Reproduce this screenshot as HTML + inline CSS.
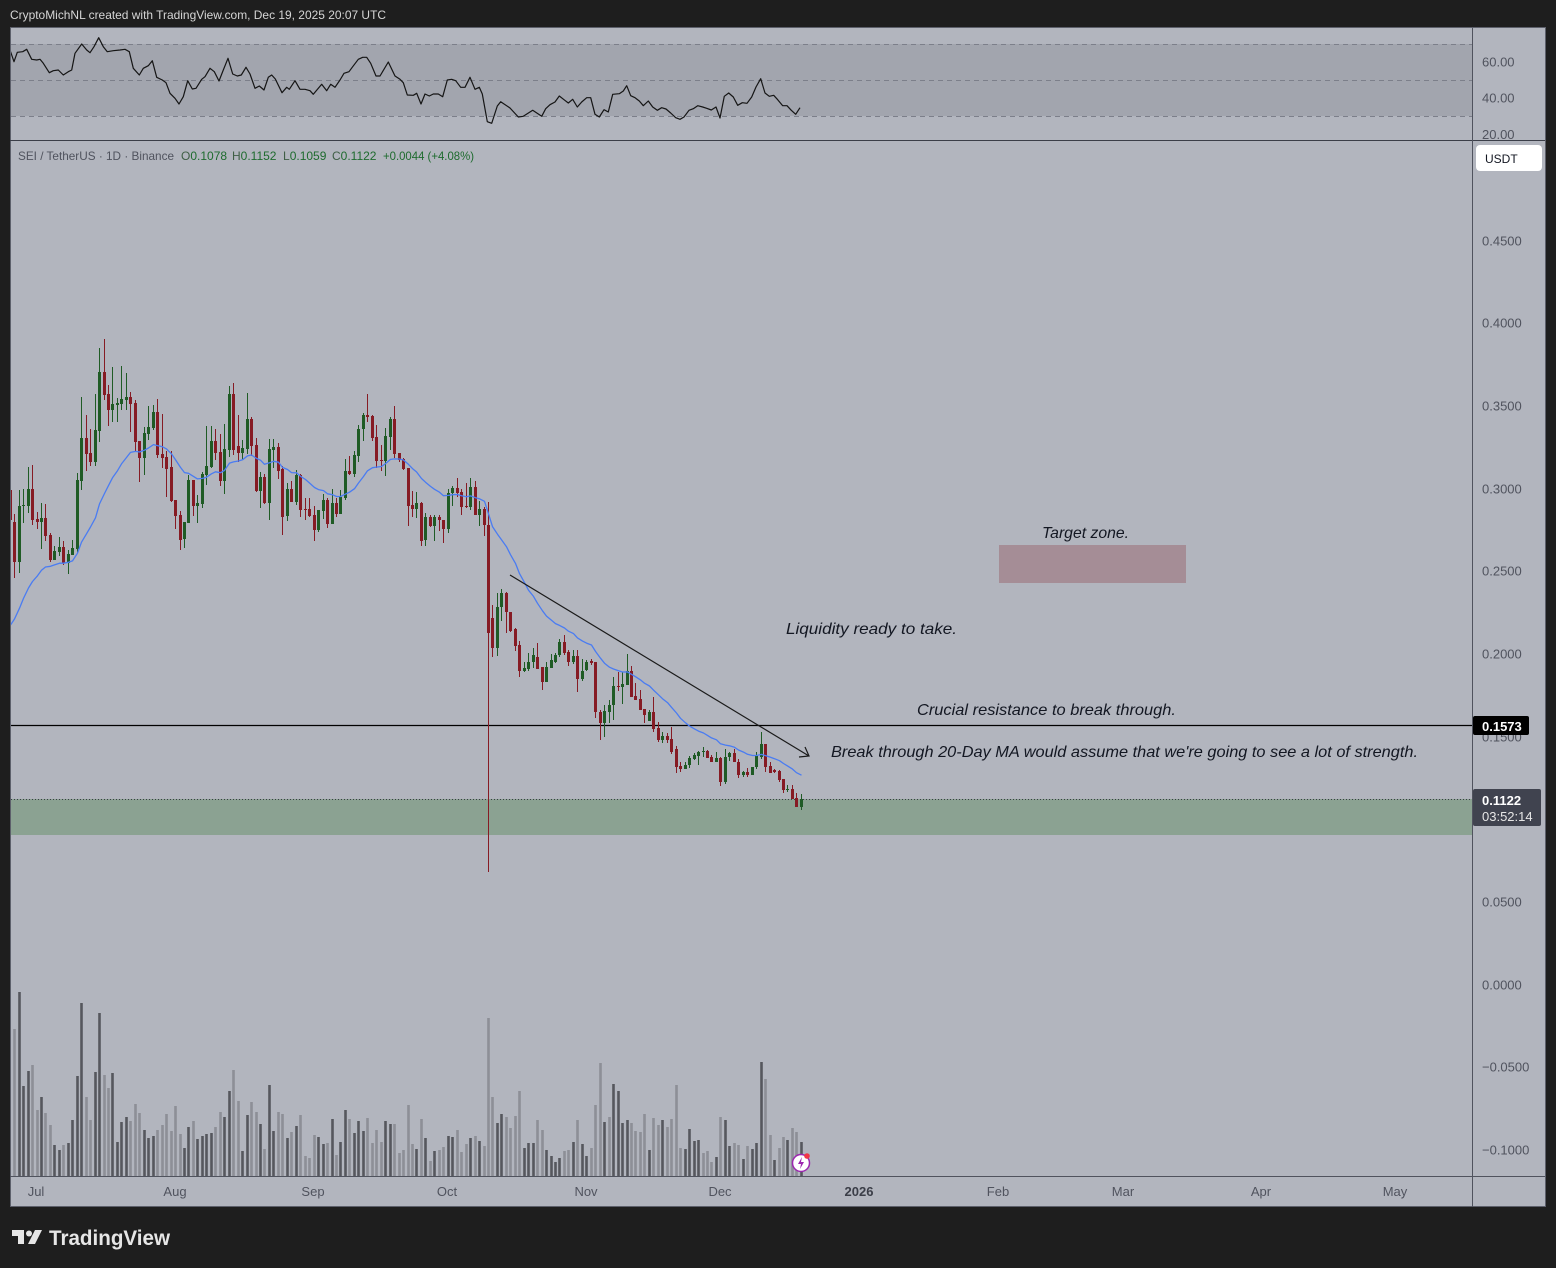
<!DOCTYPE html>
<html><head><meta charset="utf-8"><style>
html,body{margin:0;padding:0;background:#1e1e1e;width:1556px;height:1268px;overflow:hidden}
svg{display:block}
text{font-family:"Liberation Sans",Arial,sans-serif}
</style></head><body>
<svg width="1556" height="1268" viewBox="0 0 1556 1268" xmlns="http://www.w3.org/2000/svg">
<defs>
<clipPath id="cm"><rect x="11" y="141" width="1461" height="1035"/></clipPath>
<clipPath id="cr"><rect x="11" y="28" width="1461" height="112"/></clipPath>
</defs>
<rect width="1556" height="1268" fill="#1e1e1e"/>
<text x="10" y="19" font-size="12" fill="#d6d6d6" textLength="376" lengthAdjust="spacingAndGlyphs">CryptoMichNL created with TradingView.com, Dec 19, 2025 20:07 UTC</text>
<rect x="10.5" y="27.5" width="1535" height="1179" fill="#b2b5be" stroke="#5d606b"/>
<!-- RSI pane -->
<rect x="11" y="44" width="1461" height="72" fill="#a2a5ae"/>
<g stroke="#7c7f8a" stroke-dasharray="5,4" stroke-width="1">
<line x1="11" y1="44.5" x2="1472" y2="44.5"/>
<line x1="11" y1="80.5" x2="1472" y2="80.5"/>
<line x1="11" y1="116.5" x2="1472" y2="116.5"/>
</g>
<g clip-path="url(#cr)">
<polyline fill="none" stroke="#151515" stroke-width="1.2" stroke-linejoin="round" points="10,50 14,61.7 17.3,52.3 22.7,51.7 26.7,49.3 31.7,59.3 36.7,60 40,59.3 43.3,63.3 49.3,72.7 53.3,70.7 58.3,70 63.3,75 68.3,71.7 71.7,70 75,53.3 81.7,44 86.7,50 90,52.7 94,46.7 98.7,37.7 103.3,46.7 107.3,51.7 113.3,50.7 120,50 125,49.3 129.3,51.7 133.3,68.3 139.3,75 143.3,68.3 148.3,65.7 152.3,60.7 156.7,77.3 162.3,80 166,82.7 170,93.3 175,98.3 179,104 183.3,96.7 187.7,80.7 192.3,89 196,88.3 201.7,79.3 205,76.7 210,68.3 214.3,71.7 219,81 223.3,70 228,58.3 232.7,74 237.3,76 241.3,75 246,67.3 250,74 255,88.3 259.3,86 264,90 268.3,77.3 271.7,75 275.3,79 282,92.7 286.7,87.3 289.3,89.3 295,80.7 300,89.3 305,89.3 310,90.7 313.3,94.3 321.7,84.3 326.7,90.7 330.7,84.3 335,87.3 340,80 344,73.3 349,71.7 352.7,66.7 358.3,59.3 362.7,57.3 366.7,57.3 370.7,63.3 376,76 380,76 388.3,62 395,76 400,79.3 403.3,82.7 407.3,95 413.3,95.3 416.7,93.3 421,104 425,94 429.3,96 433.3,94 438.3,94 442.7,96.7 447.3,80 451.7,79.3 455.7,80.7 460.7,87.3 465,87.3 470,77.3 475,89.3 479.3,87.3 482.3,94 487.3,121.7 491.7,123.3 497.3,106 500.7,101.7 510,108 518.3,117 523.3,116.3 532.7,110.3 541.7,116.3 545.7,108.7 550,104.7 555,102 559.3,96 564,99.7 568.3,103 572.7,99.3 577.3,107 581.7,102 586.7,97.7 590.7,97.7 595,114.3 599.3,117 604,109.7 608.3,112 612.7,94.3 619.3,93.7 623.3,91 626.7,85.7 630.7,95.7 635,97.7 639.3,101 643.3,105.7 648.3,101 652.7,107 657.3,110.3 661.7,107.7 666,109 670.7,113 675.7,117.7 680,119.3 684,117 689,110.3 693.3,108.7 697.7,105.7 702.7,107 706.7,108.3 711.3,110 716,107 720,118 724.3,96.3 728.7,93 733.3,97 737.7,105.3 742.3,102.7 747,103.3 751.7,97 756,87 760.7,78.7 765,93 769.3,96.3 773.7,95.3 777.7,99.7 782.7,105.7 787,105.7 791.3,110.3 795.7,114.3 800,107.7"/>
</g>
<!-- main pane -->
<g clip-path="url(#cm)">
<rect x="11" y="799" width="1461" height="36" fill="#8ba292"/>
<line x1="11" y1="799.5" x2="1472" y2="799.5" stroke="#3b3e48" stroke-dasharray="1,2"/>
<rect x="999" y="545" width="187" height="38" fill="#a58d96"/>
<line x1="11" y1="725.5" x2="1472" y2="725.5" stroke="#000" stroke-width="1.2"/>
<!-- volume -->
<path fill="none" stroke="#56575e" stroke-width="2.6" d="M19.5 992V1176M23.5 1086V1176M28.5 1071V1176M41.5 1097V1176M54.5 1145V1176M59.5 1150V1176M68.5 1143V1176M72.5 1120V1176M77.5 1076V1176M81.5 1003V1176M95.5 1072V1176M99.5 1013V1176M112.5 1073V1176M117.5 1142V1176M121.5 1122V1176M126.5 1117V1176M144.5 1130V1176M148.5 1138V1176M153.5 1136V1176M184.5 1148V1176M188.5 1127V1176M197.5 1139V1176M202.5 1136V1176M206.5 1134V1176M211.5 1133V1176M224.5 1117V1176M229.5 1091V1176M242.5 1151V1176M247.5 1115V1176M260.5 1124V1176M269.5 1085V1176M273.5 1131V1176M287.5 1138V1176M296.5 1126V1176M318.5 1137V1176M323.5 1144V1176M332.5 1119V1176M340.5 1142V1176M345.5 1110V1176M354.5 1133V1176M358.5 1121V1176M363.5 1131V1176M385.5 1121V1176M390.5 1124V1176M416.5 1149V1176M425.5 1138V1176M434.5 1151V1176M448.5 1136V1176M452.5 1137V1176M470.5 1138V1176M479.5 1141V1176M497.5 1123V1176M501.5 1114V1176M524.5 1148V1176M528.5 1143V1176M533.5 1143V1176M546.5 1150V1176M551.5 1156V1176M555.5 1162V1176M559.5 1158V1176M573.5 1142V1176M582.5 1144V1176M586.5 1156V1176M604.5 1122V1176M613.5 1084V1176M618.5 1091V1176M622.5 1123V1176M627.5 1120V1176M649.5 1150V1176M662.5 1120V1176M685.5 1149V1176M689.5 1129V1176M694.5 1141V1176M698.5 1140V1176M716.5 1157V1176M725.5 1120V1176M729.5 1146V1176M743.5 1159V1176M752.5 1149V1176M756.5 1143V1176M761.5 1062V1176M774.5 1160V1176M787.5 1140V1176M801.5 1142V1176"/>
<path fill="none" stroke="#8d8f97" stroke-width="2.6" d="M14.5 1029V1176M32.5 1065V1176M37.5 1110V1176M45.5 1113V1176M50.5 1125V1176M63.5 1145V1176M86.5 1097V1176M90.5 1120V1176M104.5 1075V1176M108.5 1088V1176M130.5 1121V1176M135.5 1104V1176M139.5 1113V1176M157.5 1130V1176M162.5 1125V1176M166.5 1114V1176M171.5 1131V1176M175.5 1106V1176M180.5 1134V1176M193.5 1121V1176M215.5 1127V1176M220.5 1112V1176M233.5 1070V1176M238.5 1101V1176M251.5 1102V1176M256.5 1112V1176M264.5 1149V1176M278.5 1112V1176M282.5 1114V1176M291.5 1132V1176M300.5 1115V1176M305.5 1156V1176M309.5 1158V1176M314.5 1135V1176M327.5 1143V1176M336.5 1155V1176M349.5 1119V1176M367.5 1118V1176M372.5 1143V1176M376.5 1130V1176M381.5 1142V1176M394.5 1124V1176M399.5 1153V1176M403.5 1150V1176M408.5 1105V1176M412.5 1144V1176M421.5 1119V1176M430.5 1161V1176M439.5 1150V1176M443.5 1147V1176M457.5 1130V1176M461.5 1152V1176M466.5 1144V1176M475.5 1136V1176M484.5 1146V1176M488.5 1018V1176M492.5 1097V1176M506.5 1117V1176M510.5 1128V1176M515.5 1116V1176M519.5 1091V1176M537.5 1120V1176M542.5 1130V1176M564.5 1151V1176M568.5 1150V1176M577.5 1120V1176M591.5 1148V1176M595.5 1105V1176M600.5 1063V1176M609.5 1117V1176M631.5 1123V1176M635.5 1131V1176M640.5 1132V1176M644.5 1114V1176M653.5 1118V1176M658.5 1125V1176M667.5 1127V1176M671.5 1119V1176M676.5 1085V1176M680.5 1148V1176M703.5 1153V1176M707.5 1151V1176M711.5 1162V1176M720.5 1117V1176M734.5 1143V1176M738.5 1145V1176M747.5 1146V1176M765.5 1079V1176M770.5 1135V1176M779.5 1148V1176M783.5 1137V1176M792.5 1128V1176M796.5 1132V1176"/>
<!-- candles red -->
<path shape-rendering="crispEdges" fill="#861b24" d="M10 478h1V525h-1zM9 490h3v30h-3zM14 514h1V578h-1zM13 522h3v40h-3zM32 465h1V525h-1zM31 489h3v31h-3zM37 512h1V529h-1zM36 519h3v3h-3zM45 504h1V541h-1zM44 518h3v18h-3zM50 533h1V562h-1zM49 535h3v25h-3zM63 541h1V565h-1zM62 547h3v16h-3zM86 415h1V471h-1zM85 438h3v16h-3zM90 429h1V466h-1zM89 453h3v9h-3zM104 339h1V400h-1zM103 372h3v23h-3zM108 385h1V426h-1zM107 394h3v16h-3zM130 392h1V432h-1zM129 397h3v7h-3zM135 400h1V452h-1zM134 403h3v39h-3zM139 441h1V482h-1zM138 441h3v17h-3zM157 399h1V458h-1zM156 412h3v43h-3zM162 414h1V468h-1zM161 454h3v4h-3zM166 451h1V497h-1zM165 457h3v12h-3zM171 451h1V502h-1zM170 467h3v34h-3zM175 500h1V529h-1zM174 500h3v16h-3zM180 511h1V550h-1zM179 515h3v25h-3zM193 480h1V516h-1zM192 480h3v26h-3zM215 429h1V460h-1zM214 441h3v12h-3zM220 434h1V486h-1zM219 452h3v29h-3zM233 383h1V455h-1zM232 394h3v56h-3zM238 415h1V462h-1zM237 446h3v7h-3zM251 417h1V456h-1zM250 419h3v27h-3zM256 438h1V492h-1zM255 445h3v46h-3zM264 474h1V504h-1zM263 477h3v26h-3zM278 443h1V479h-1zM277 447h3v24h-3zM282 466h1V535h-1zM281 469h3v48h-3zM291 481h1V502h-1zM290 489h3v13h-3zM300 474h1V517h-1zM299 475h3v35h-3zM305 498h1V520h-1zM304 509h3v1h-3zM309 498h1V517h-1zM308 509h3v7h-3zM314 506h1V541h-1zM313 515h3v15h-3zM327 498h1V528h-1zM326 500h3v24h-3zM336 498h1V517h-1zM335 503h3v11h-3zM349 456h1V475h-1zM348 471h3v3h-3zM367 394h1V422h-1zM366 415h3v2h-3zM372 415h1V441h-1zM371 416h3v22h-3zM376 425h1V468h-1zM375 437h3v24h-3zM381 445h1V471h-1zM380 460h3v1h-3zM394 406h1V458h-1zM393 419h3v35h-3zM399 453h1V462h-1zM398 453h3v7h-3zM403 458h1V470h-1zM402 459h3v10h-3zM408 468h1V526h-1zM407 468h3v38h-3zM412 491h1V517h-1zM411 505h3v4h-3zM421 502h1V546h-1zM420 503h3v38h-3zM430 515h1V527h-1zM429 517h3v9h-3zM439 515h1V531h-1zM438 517h3v3h-3zM443 520h1V543h-1zM442 520h3v9h-3zM457 478h1V497h-1zM456 488h3v5h-3zM461 489h1V515h-1zM460 492h3v15h-3zM466 483h1V508h-1zM465 506h3v1h-3zM475 481h1V515h-1zM474 487h3v28h-3zM484 507h1V536h-1zM483 509h3v16h-3zM488 502h1V872h-1zM487 525h3v108h-3zM492 605h1V657h-1zM491 618h3v30h-3zM506 592h1V633h-1zM505 593h3v19h-3zM510 612h1V632h-1zM509 612h3v19h-3zM515 628h1V651h-1zM514 629h3v17h-3zM519 641h1V677h-1zM518 645h3v26h-3zM537 643h1V669h-1zM536 657h3v12h-3zM542 667h1V690h-1zM541 667h3v15h-3zM564 635h1V655h-1zM563 642h3v11h-3zM568 650h1V666h-1zM567 652h3v10h-3zM577 650h1V692h-1zM576 656h3v23h-3zM591 659h1V665h-1zM590 661h3v2h-3zM595 662h1V718h-1zM594 662h3v50h-3zM600 710h1V740h-1zM599 712h3v11h-3zM618 672h1V691h-1zM617 686h3v1h-3zM631 666h1V697h-1zM630 671h3v26h-3zM635 683h1V700h-1zM634 696h3v4h-3zM640 690h1V710h-1zM639 699h3v11h-3zM644 709h1V723h-1zM643 709h3v6h-3zM653 697h1V732h-1zM652 712h3v17h-3zM658 722h1V742h-1zM657 728h3v12h-3zM667 733h1V743h-1zM666 736h3v4h-3zM671 727h1V754h-1zM670 739h3v13h-3zM676 746h1V773h-1zM675 749h3v18h-3zM680 762h1V772h-1zM679 766h3v3h-3zM707 750h1V758h-1zM706 751h3v7h-3zM711 755h1V762h-1zM710 757h3v5h-3zM720 757h1V786h-1zM719 758h3v24h-3zM734 749h1V762h-1zM733 753h3v9h-3zM738 759h1V778h-1zM737 762h3v13h-3zM747 768h1V777h-1zM746 772h3v3h-3zM765 744h1V772h-1zM764 744h3v23h-3zM770 762h1V773h-1zM769 766h3v7h-3zM774 769h1V773h-1zM773 770h3v2h-3zM779 770h1V782h-1zM778 771h3v9h-3zM783 779h1V793h-1zM782 779h3v11h-3zM792 785h1V799h-1zM791 789h3v10h-3zM796 793h1V807h-1zM795 798h3v9h-3z"/>
<!-- candles green -->
<path shape-rendering="crispEdges" fill="#1f5b25" d="M19 490h1V573h-1zM18 506h3v56h-3zM23 489h1V523h-1zM22 505h3v1h-3zM28 467h1V513h-1zM27 489h3v17h-3zM41 503h1V549h-1zM40 518h3v4h-3zM54 546h1V560h-1zM53 551h3v9h-3zM59 537h1V556h-1zM58 547h3v5h-3zM68 550h1V574h-1zM67 554h3v9h-3zM72 540h1V555h-1zM71 548h3v7h-3zM77 473h1V553h-1zM76 480h3v69h-3zM81 397h1V490h-1zM80 438h3v43h-3zM95 394h1V466h-1zM94 430h3v32h-3zM99 348h1V442h-1zM98 372h3v59h-3zM112 367h1V422h-1zM111 404h3v6h-3zM117 398h1V422h-1zM116 403h3v2h-3zM121 366h1V410h-1zM120 399h3v5h-3zM126 373h1V410h-1zM125 397h3v3h-3zM144 427h1V475h-1zM143 433h3v25h-3zM148 406h1V440h-1zM147 427h3v7h-3zM153 405h1V430h-1zM152 412h3v16h-3zM184 522h1V548h-1zM183 522h3v17h-3zM188 475h1V523h-1zM187 480h3v43h-3zM197 495h1V523h-1zM196 503h3v3h-3zM202 472h1V508h-1zM201 474h3v30h-3zM206 426h1V485h-1zM205 466h3v9h-3zM211 426h1V468h-1zM210 441h3v26h-3zM224 424h1V494h-1zM223 449h3v32h-3zM229 386h1V457h-1zM228 394h3v56h-3zM242 440h1V460h-1zM241 448h3v5h-3zM247 393h1V454h-1zM246 419h3v30h-3zM260 472h1V508h-1zM259 477h3v14h-3zM269 439h1V520h-1zM268 449h3v54h-3zM273 439h1V468h-1zM272 447h3v3h-3zM287 483h1V521h-1zM286 489h3v27h-3zM296 470h1V505h-1zM295 475h3v27h-3zM318 510h1V532h-1zM317 510h3v20h-3zM323 494h1V519h-1zM322 500h3v11h-3zM332 489h1V524h-1zM331 503h3v21h-3zM340 490h1V514h-1zM339 497h3v17h-3zM345 459h1V500h-1zM344 471h3v27h-3zM354 451h1V477h-1zM353 455h3v19h-3zM358 425h1V462h-1zM357 429h3v27h-3zM363 413h1V441h-1zM362 415h3v14h-3zM385 428h1V476h-1zM384 436h3v25h-3zM390 417h1V450h-1zM389 419h3v18h-3zM416 492h1V518h-1zM415 503h3v6h-3zM425 513h1V546h-1zM424 517h3v23h-3zM434 515h1V541h-1zM433 517h3v9h-3zM448 489h1V533h-1zM447 493h3v36h-3zM452 486h1V506h-1zM451 488h3v5h-3zM470 478h1V510h-1zM469 487h3v20h-3zM479 501h1V526h-1zM478 509h3v6h-3zM497 593h1V656h-1zM496 607h3v41h-3zM501 589h1V621h-1zM500 593h3v14h-3zM524 662h1V672h-1zM523 668h3v3h-3zM528 653h1V671h-1zM527 662h3v7h-3zM533 648h1V668h-1zM532 655h3v7h-3zM546 662h1V682h-1zM545 667h3v15h-3zM551 654h1V668h-1zM550 660h3v8h-3zM555 653h1V663h-1zM554 655h3v7h-3zM559 639h1V657h-1zM558 642h3v13h-3zM573 650h1V664h-1zM572 656h3v6h-3zM582 659h1V681h-1zM581 671h3v8h-3zM586 660h1V671h-1zM585 662h3v8h-3zM604 705h1V737h-1zM603 711h3v12h-3zM609 700h1V723h-1zM608 705h3v7h-3zM613 677h1V720h-1zM612 686h3v19h-3zM622 672h1V704h-1zM621 684h3v3h-3zM627 654h1V685h-1zM626 671h3v14h-3zM649 710h1V721h-1zM648 712h3v9h-3zM662 732h1V743h-1zM661 736h3v4h-3zM685 762h1V769h-1zM684 765h3v4h-3zM689 756h1V768h-1zM688 758h3v7h-3zM694 753h1V760h-1zM693 755h3v4h-3zM698 751h1V765h-1zM697 752h3v4h-3zM703 747h1V757h-1zM702 751h3v1h-3zM716 752h1V762h-1zM715 758h3v4h-3zM725 749h1V784h-1zM724 757h3v25h-3zM729 752h1V761h-1zM728 753h3v4h-3zM743 771h1V777h-1zM742 772h3v3h-3zM752 767h1V775h-1zM751 767h3v8h-3zM756 752h1V769h-1zM755 756h3v11h-3zM761 732h1V759h-1zM760 744h3v13h-3zM787 785h1V792h-1zM786 789h3v1h-3zM801 794h1V810h-1zM800 799h3v8h-3z"/>
<!-- EMA 20 -->
<polyline transform="translate(0.5,0)" fill="none" stroke="#4a7cf2" stroke-width="1.3" stroke-linejoin="round" points="10,625 14,619 19,608.2 23,598.4 28,588 32,581.5 37,575.8 41,570.3 45,567 50,566.3 54,564.9 59,563.2 63,563.2 68,562.3 72,560.9 77,553.2 81,542.2 86,533.8 90,527 95,517.8 99,503.9 104,493.5 108,485.6 112,477.8 117,470.7 121,463.9 126,457.5 130,452.4 135,451.4 139,452 144,450.2 148,448 153,444.6 157,445.6 162,446.8 166,448.9 171,453.9 175,459.8 180,467.4 184,472.6 188,473.3 193,476.4 197,478.9 202,478.4 206,477.2 211,473.8 215,471.8 220,472.7 224,470.4 229,463.1 233,461.9 238,461 242,459.8 247,455.9 251,455 256,458.4 260,460.2 264,464.3 269,462.8 273,461.3 278,462.2 282,467.4 287,469.5 291,472.6 296,472.8 300,476.3 305,479.5 309,483 314,487.5 318,489.6 323,490.6 327,493.8 332,494.7 336,496.5 340,496.5 345,494.1 349,492.2 354,488.7 358,483 363,476.5 367,470.8 372,467.7 376,467.1 381,466.5 385,463.6 390,459.4 394,458.9 399,459 403,460 408,464.4 412,468.6 416,471.9 421,478.5 425,482.2 430,486.4 434,489.3 439,492.2 443,495.7 448,495.4 452,494.7 457,494.5 461,495.7 466,496.8 470,495.9 475,497.7 479,498.8 484,501.3 488,513.8 492,526.6 497,534.2 501,539.8 506,546.7 510,554.7 515,563.4 519,573.6 524,582.6 528,590.2 533,596.4 537,603.3 542,610.8 546,616.1 551,620.3 555,623.6 559,625.4 564,628 568,631.2 573,633.6 577,637.9 582,641.1 586,643.1 591,645 595,651.4 600,658.2 604,663.2 609,667.2 613,669 618,670.7 622,672 627,671.9 631,674.3 635,676.7 640,679.9 644,683.2 649,686 653,690.1 658,694.8 662,698.7 667,702.6 671,707.3 676,713 680,718.3 685,722.8 689,726.1 694,728.9 698,731.1 703,733 707,735.4 711,737.9 716,739.8 720,743.8 725,745.1 729,745.8 734,747.3 738,750 743,752.1 747,754.3 752,755.5 756,755.5 761,754.4 765,755.6 770,757.3 774,758.7 779,760.7 783,763.5 787,765.9 792,769.1 796,772.7 801,775.2"/>
<g stroke="#1a1a1a" stroke-width="1.2" fill="none">
<line x1="510" y1="575" x2="809" y2="756"/>
<polyline points="799,757 809,756 805,747"/>
</g>
</g>
<!-- annotations -->
<g font-style="italic" font-size="16" fill="#131722">
<text x="1042" y="538" textLength="87" lengthAdjust="spacingAndGlyphs">Target zone.</text>
<text x="786" y="634" textLength="171" lengthAdjust="spacingAndGlyphs">Liquidity ready to take.</text>
<text x="917" y="715" textLength="259" lengthAdjust="spacingAndGlyphs">Crucial resistance to break through.</text>
<text x="831" y="757" textLength="587" lengthAdjust="spacingAndGlyphs">Break through 20-Day MA would assume that we're going to see a lot of strength.</text>
</g>
<!-- symbol line -->
<text y="160" font-size="12">
<tspan x="18" fill="#50535e" textLength="156" lengthAdjust="spacingAndGlyphs">SEI / TetherUS · 1D · Binance</tspan>
<tspan x="181" fill="#3f5e45">O</tspan><tspan fill="#1e6b2e">0.1078</tspan>
<tspan x="232" fill="#3f5e45">H</tspan><tspan fill="#1e6b2e">0.1152</tspan>
<tspan x="283" fill="#3f5e45">L</tspan><tspan fill="#1e6b2e">0.1059</tspan>
<tspan x="332" fill="#3f5e45">C</tspan><tspan fill="#1e6b2e">0.1122</tspan>
<tspan x="383" fill="#1e6b2e" textLength="91" lengthAdjust="spacingAndGlyphs">+0.0044 (+4.08%)</tspan>
</text>
<!-- separators -->
<line x1="10" y1="140.5" x2="1545" y2="140.5" stroke="#3b3e48"/>
<line x1="1472.5" y1="28" x2="1472.5" y2="1207" stroke="#50535e"/>
<line x1="10" y1="1176.5" x2="1545" y2="1176.5" stroke="#50535e"/>
<!-- price axis -->
<g font-size="13" fill="#50535e">
<text x="1482" y="66.5">60.00</text>
<text x="1482" y="102.5">40.00</text>
<text x="1482" y="139">20.00</text>
<text x="1482" y="245.5">0.4500</text>
<text x="1482" y="327.5">0.4000</text>
<text x="1482" y="410.5">0.3500</text>
<text x="1482" y="493.5">0.3000</text>
<text x="1482" y="575.5">0.2500</text>
<text x="1482" y="658.5">0.2000</text>
<text x="1482" y="741.5">0.1500</text>
<text x="1482" y="906.5">0.0500</text>
<text x="1482" y="989.5">0.0000</text>
<text x="1482" y="1071.5">−0.0500</text>
<text x="1482" y="1154.5">−0.1000</text>
</g>
<rect x="1476" y="145" width="66" height="26" rx="4" fill="#ffffff"/>
<text x="1485" y="163" font-size="12" fill="#131722">USDT</text>
<rect x="1473" y="716" width="56" height="19" rx="2" fill="#000"/>
<text x="1482" y="731" font-size="13" font-weight="bold" fill="#fff">0.1573</text>
<rect x="1473" y="789" width="68" height="37" rx="2" fill="#40434f"/>
<text x="1482" y="805" font-size="13" font-weight="bold" fill="#fff">0.1122</text>
<text x="1482" y="821" font-size="13" fill="#e6e6e6">03:52:14</text>
<!-- time axis -->
<g font-size="13" fill="#50535e" text-anchor="middle">
<text x="36" y="1196">Jul</text>
<text x="175" y="1196">Aug</text>
<text x="313" y="1196">Sep</text>
<text x="447" y="1196">Oct</text>
<text x="586" y="1196">Nov</text>
<text x="720" y="1196">Dec</text>
<text x="859" y="1196" font-weight="bold" fill="#3b3e48">2026</text>
<text x="998" y="1196">Feb</text>
<text x="1123" y="1196">Mar</text>
<text x="1261" y="1196">Apr</text>
<text x="1395" y="1196">May</text>
</g>
<!-- lightning icon -->
<circle cx="801" cy="1163" r="8.5" fill="#fff" stroke="#9c27b0" stroke-width="1.5"/>
<path d="M802,1157 L798,1164 L801,1164 L800,1169 L804,1162 L801,1162 Z" fill="#9c27b0"/>
<circle cx="807" cy="1156" r="2.8" fill="#f23645"/>
<!-- logo -->
<g fill="#e6e6e6">
<path d="M12,1230 H24 V1244 H18 V1236 H12 Z"/>
<circle cx="29" cy="1233.5" r="3"/>
<path d="M35,1230 H42 L35,1244 H28 Z"/>
</g>
<text x="49" y="1245" font-size="21" font-weight="bold" fill="#e6e6e6" textLength="121" lengthAdjust="spacingAndGlyphs">TradingView</text>
</svg>
</body></html>
